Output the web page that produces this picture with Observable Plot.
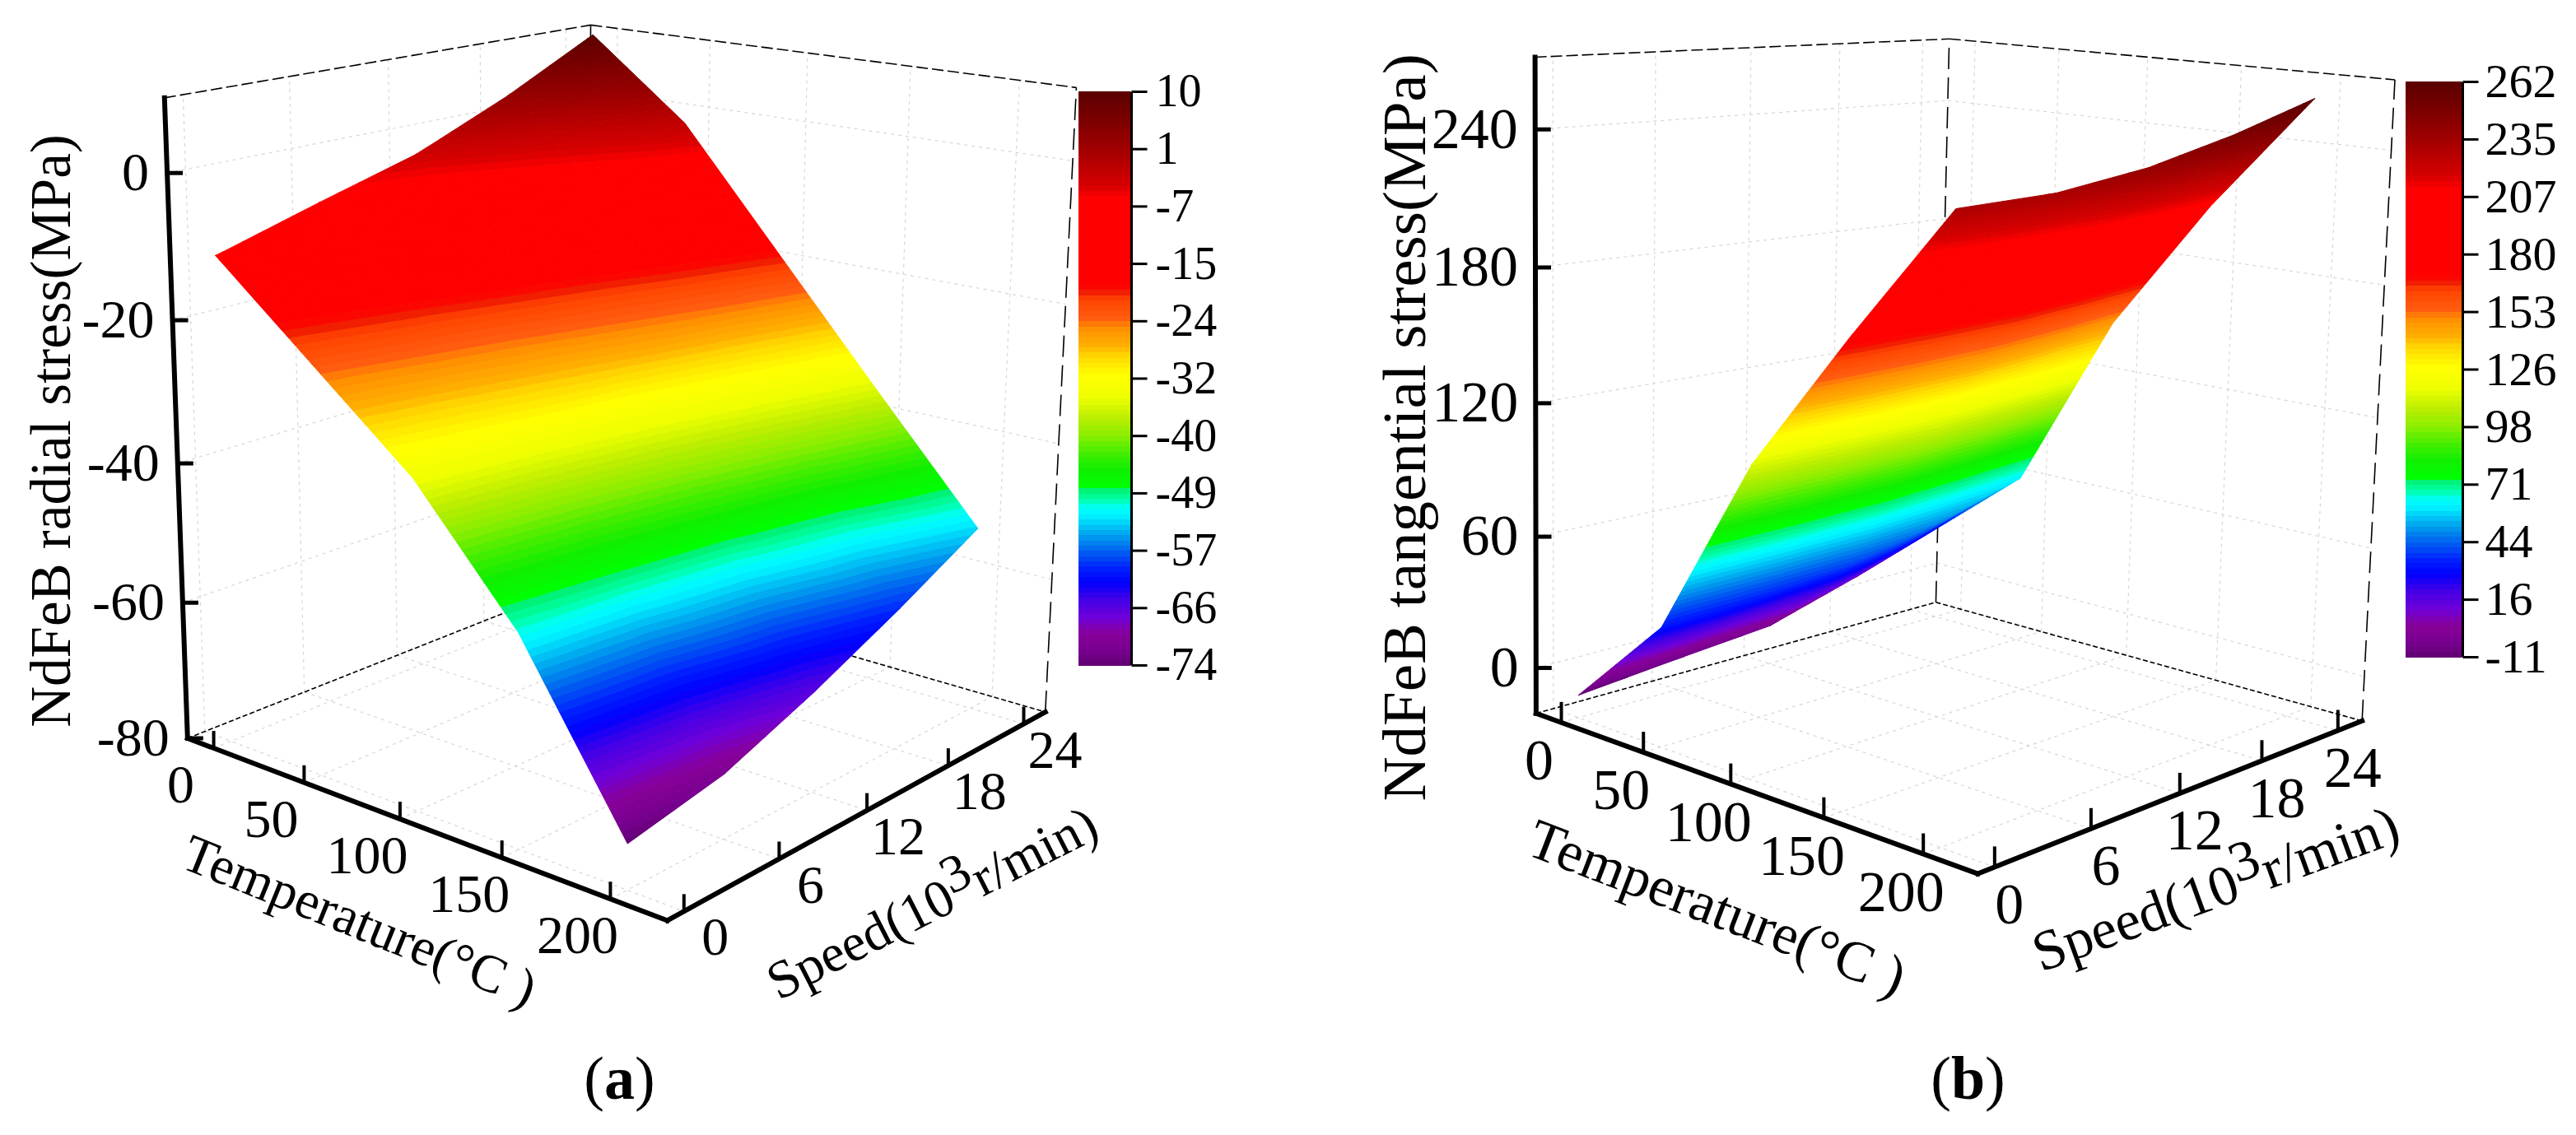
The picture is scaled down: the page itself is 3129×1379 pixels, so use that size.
<!DOCTYPE html>
<html><head><meta charset="utf-8">
<style>html,body{margin:0;padding:0;background:#fff}#fig{display:flex;width:3129px;height:1379px;overflow:hidden}#fig svg{flex:none;display:block;max-width:none}</style>
<script src="https://cdn.jsdelivr.net/npm/d3@7"></script>
<script src="https://cdn.jsdelivr.net/npm/@observablehq/plot@0.6"></script>
</head><body><div id="fig"></div>
<script>
// ---------- data ----------
const temperature = [0, 50, 100, 150, 200];
const speed = [0, 6, 12, 18, 24];
// rows: temperature, columns: speed
const radialStress = [
  [-10.9, -6.8, -2.9, 2.9, 9.7],
  [-22.6, -19.1, -14.5, -8.4, -1.6],
  [-34.3, -31.7, -28.3, -23.8, -18.8],
  [-50.7, -48.3, -45.0, -40.8, -36.0],
  [-73.8, -71.0, -65.7, -59.6, -52.9]
];
const tangentialStress = [
  [-10.6, -6.3, -2.4, 10.7, 26.0],
  [32.3, 34.8, 39.2, 49.2, 61.2],
  [113.2, 116.0, 121.1, 132.4, 146.0],
  [173.7, 176.6, 181.9, 193.6, 207.7],
  [230.8, 232.4, 238.6, 248.8, 261.4]
];
const radialTicks = [0, -20, -40, -60, -80];
const tangentialTicks = [0, 60, 120, 180, 240];
const radialBarLabels = [10, 1, -7, -15, -24, -32, -40, -49, -57, -66, -74];
const tangentialBarLabels = [262, 235, 207, 180, 153, 126, 98, 71, 44, 16, -11];
// colour map: position 0..1 along the bar, with its colour
const mapPositions = [0, .026, .055, .083, .117, .145, .169, .199, .227, .26, .274, .289, .31, .313, .342, .37, .399, .432, .467, .505, .538, .557, .59, .605, .638, .652, .662, .815, .835, .901, .968, 1];
const mapColors = ["#600070", "#780090", "#880099", "#7000d8", "#4000e8", "#0000ff", "#0020ff", "#0060f0", "#009fee", "#00eeff", "#00ffff", "#00ffaa", "#00ee66", "#00ff00", "#11ee00", "#44ee00", "#88ee00", "#bbee00", "#eeff00", "#ffff00", "#ffd800", "#ffb000", "#ff8c00", "#ff5a10", "#ff4500", "#f01800", "#ff0000", "#ff0000", "#d80000", "#a00000", "#700000", "#5a0000"];

// ---------- panels: camera and layout ----------
const panels = [
  {
    x0: 0, x1: 1564, values: radialStress, ticks: radialTicks, barLabels: radialBarLabels, min: -74, max: 10,
    camera: [417.10692, 572.15822, -47.13674, 258.2306, 61.26119, -74.25632, -924.22813, 211.74515, -0.12012, 0.15431, -0.0709],
    T: [-15, 225], S: [-1, 25.8], Z: [-80, 10],
    bar: {x1: 1310, x2: 1374, tick: 1393, label: 1403, top: 111, bottom: 808, size: 56},
    tempOffset: [-40, 45], speedOffset: [38, 32], tickLen: 21, zLabelGap: 22, labelSize: 66,
    zTitle: "NdFeB radial stress(MPa)", zTitlePos: [62, 523], zTitleSize: 69,
    tempTitle: {pos: [436, 1119], rotate: 22, size: 65}, speedTitle: {pos: [1132, 1097], rotate: -27, size: 65},
    caption: "a", captionX: 752
  },
  {
    x0: 1564, x1: 3129, values: tangentialStress, ticks: tangentialTicks, barLabels: tangentialBarLabels, min: -11, max: 262,
    camera: [158.49718, 783.74993, -26.32173, 1916.95376, 34.94625, -12.0506, -275.72733, 816.08072, -0.11976, 0.14862, -0.01388],
    T: [-16, 226], S: [-1, 26], Z: [-21, 271],
    bar: {x1: 2922, x2: 2991, tick: 3010, label: 3018, top: 99, bottom: 798, size: 58},
    tempOffset: [-27, 47], speedOffset: [18, 46], tickLen: 25, zLabelGap: 21, labelSize: 70,
    zTitle: "NdFeB tangential stress(MPa)", zTitlePos: [1706, 519], zTitleSize: 75,
    tempTitle: {pos: [2085, 1103], rotate: 21, size: 69}, speedTitle: {pos: [2691, 1080], rotate: -20, size: 69},
    caption: "b", captionX: 2390
  }
];
const serif = "Liberation Serif";
const bandCount = 110;

function buildPanel(p) {
  const project = (T, S, v) => {
    const X = T / 200, Y = S / 24, Z = v / 100, m = p.camera;
    const w = m[8] * X + m[9] * Y + m[10] * Z + 1;
    return [(m[0] * X + m[1] * Y + m[2] * Z + m[3]) / w, (m[4] * X + m[5] * Y + m[6] * Z + m[7]) / w];
  };
  const seg = (a, b) => { const [x1, y1] = project(...a), [x2, y2] = project(...b); return {x1, y1, x2, y2}; };
  const [T0, T1] = p.T, [S0, S1] = p.S, [Z0, Z1] = p.Z;

  // colour bands
  const step = (p.max - p.min) / bandCount;
  const thresholds = d3.range(1, bandCount).map(i => p.min + i * step);
  const ramp = d3.scaleLinear().domain(mapPositions).range(mapColors).interpolate(d3.interpolateRgb);
  const bandColors = d3.range(bandCount).map(i => ramp((i + .5) / bandCount));
  const bands = d3.range(bandCount).map(i => ({lo: p.min + i * step, hi: p.min + (i + 1) * step, mid: p.min + (i + .5) * step}));
  const low = -1e9, high = 1e9;
  bands[0].lo = low; bands[bandCount - 1].hi = high;

  // surface: every grid triangle is cut along the colour bands
  const clip = (poly, keep, level) => {
    const out = [];
    poly.forEach((a, i) => {
      const b = poly[(i + 1) % poly.length], ka = keep(a[2]), kb = keep(b[2]);
      if (ka) out.push(a);
      if (ka !== kb) { const t = (level - a[2]) / (b[2] - a[2]); out.push([a[0] + t * (b[0] - a[0]), a[1] + t * (b[1] - a[1]), level]); }
    });
    return out;
  };
  const surface = [];
  let id = 0;
  temperature.slice(1).forEach((_, i) => speed.slice(1).forEach((_, j) => {
    const c = (a, b) => [temperature[a], speed[b], p.values[a][b]];
    const q = [c(i, j), c(i + 1, j), c(i + 1, j + 1), c(i, j + 1)];
    for (const tri of [[q[0], q[1], q[2]], [q[0], q[2], q[3]]]) for (const band of bands) {
      let poly = band.lo > low ? clip(tri, v => v >= band.lo, band.lo) : tri;
      if (poly.length && band.hi < high) poly = clip(poly, v => v <= band.hi, band.hi);
      if (poly.length < 3) continue;
      id++;
      for (const [T, S, v] of poly) { const [x, y] = project(T, S, v); surface.push({id, x, y, v: band.mid}); }
    }
  }));

  // box and grid
  const grid = [
    ...speed.map(s => seg([T0, s, Z0], [T0, s, Z1])),
    ...temperature.map(t => seg([t, S1, Z0], [t, S1, Z1])),
    ...p.ticks.filter(v => v > Z0).flatMap(v => [seg([T0, S0, v], [T0, S1, v]), seg([T0, S1, v], [T1, S1, v])]),
    ...speed.map(s => seg([T0, s, Z0], [T1, s, Z0])),
    ...temperature.map(t => seg([t, S0, Z0], [t, S1, Z0]))
  ];
  const topEdges = [seg([T0, S0, Z1], [T0, S1, Z1]), seg([T0, S1, Z1], [T1, S1, Z1])];
  const uprights = [seg([T1, S1, Z0], [T1, S1, Z1]), seg([T0, S1, Z0], [T0, S1, Z1])];
  const floorEdges = [seg([T0, S0, Z0], [T0, S1, Z0]), seg([T0, S1, Z0], [T1, S1, Z0])];
  const axes = [seg([T0, S0, Z0], [T0, S0, Z1]), seg([T0, S0, Z0], [T1, S0, Z0]), seg([T1, S0, Z0], [T1, S1, Z0])];

  const pt = (a, text) => { const [x, y] = project(...a); return {x, y, text: String(text)}; };
  const zMarks = p.ticks.map(v => pt([T0, S0, v], v));
  const tMarks = temperature.map(t => pt([t, S0, Z0], t));
  const sMarks = speed.map(s => pt([T1, s, Z0], s));
  const barStep = (p.bar.bottom - p.bar.top) / (p.barLabels.length - 1);
  const barMarks = p.barLabels.map((v, i) => ({y: p.bar.top + i * barStep, text: String(v)}));
  const barY = v => p.bar.bottom - (v - p.min) / (p.max - p.min) * (p.bar.bottom - p.bar.top);
  const barBands = d3.range(bandCount).map(i => ({lo: p.min + i * step, hi: p.min + (i + 1) * step, mid: p.min + (i + .5) * step}));
  const font = {fontFamily: serif, fill: "black"};
  const one = (x, y, text) => [{x, y, text}];

  const svg = Plot.plot({
    width: p.x1 - p.x0, height: 1379, margin: 0,
    style: {background: "white", fontFamily: serif},
    x: {domain: [p.x0, p.x1], range: [0, p.x1 - p.x0], axis: null},
    y: {domain: [0, 1379], range: [0, 1379], axis: null},
    color: {type: "threshold", domain: thresholds, range: bandColors},
    marks: [
      Plot.link(grid, {x1: "x1", y1: "y1", x2: "x2", y2: "y2", stroke: "#d6d6d6", strokeWidth: 1.2, strokeDasharray: "4,5"}),
      Plot.link(floorEdges, {x1: "x1", y1: "y1", x2: "x2", y2: "y2", stroke: "black", strokeWidth: 1.6, strokeDasharray: "6,3"}),
      Plot.link(uprights, {x1: "x1", y1: "y1", x2: "x2", y2: "y2", stroke: "black", strokeWidth: 1.6, strokeDasharray: "26,10"}),
      Plot.link(topEdges, {x1: "x1", y1: "y1", x2: "x2", y2: "y2", stroke: "black", strokeWidth: 1.6, strokeDasharray: "14,5"}),
      Plot.line(surface, {x: "x", y: "y", z: "id", fill: "v", stroke: "v", strokeWidth: 1, curve: "linear-closed"}),
      Plot.link(axes, {x1: "x1", y1: "y1", x2: "x2", y2: "y2", stroke: "black", strokeWidth: 6, strokeLinecap: "square"}),
      Plot.link(zMarks, {x1: "x", y1: "y", x2: d => d.x + 19, y2: "y", stroke: "black", strokeWidth: 5}),
      Plot.link([...tMarks, ...sMarks], {x1: "x", y1: "y", x2: "x", y2: d => d.y - p.tickLen, stroke: "black", strokeWidth: 4}),
      Plot.text(zMarks, {x: d => d.x - p.zLabelGap, y: "y", text: "text", textAnchor: "end", fontSize: p.labelSize, ...font}),
      Plot.text(tMarks, {x: "x", y: "y", dx: p.tempOffset[0], dy: p.tempOffset[1], text: "text", fontSize: p.labelSize, ...font}),
      Plot.text(sMarks, {x: "x", y: "y", dx: p.speedOffset[0], dy: p.speedOffset[1], text: "text", fontSize: p.labelSize, ...font}),
      Plot.text(one(...p.zTitlePos, p.zTitle), {x: "x", y: "y", text: "text", rotate: -90, fontSize: p.zTitleSize, ...font}),
      Plot.text(one(...p.tempTitle.pos, "Temperature(°C )"), {x: "x", y: "y", text: "text", rotate: p.tempTitle.rotate, fontSize: p.tempTitle.size, ...font}),
      Plot.text(one(...p.speedTitle.pos, "Speed(103r/min)"), {x: "x", y: "y", text: "text", rotate: p.speedTitle.rotate, fontSize: p.speedTitle.size, ...font}),
      Plot.rect(barBands, {x1: () => p.bar.x1, x2: () => p.bar.x2 - 1, y1: d => barY(d.hi), y2: d => barY(d.lo) + .6, fill: "mid", shapeRendering: "crispEdges"}),
      Plot.link(one(p.bar.x2, p.bar.top, ""), {x1: "x", x2: "x", y1: "y", y2: () => p.bar.bottom, stroke: "black", strokeWidth: 3}),
      Plot.link(barMarks, {x1: () => p.bar.x2, x2: () => p.bar.tick, y1: "y", y2: "y", stroke: "black", strokeWidth: 3}),
      Plot.text(barMarks, {x: () => p.bar.label, y: "y", text: "text", textAnchor: "start", fontSize: p.bar.size, ...font}),
      Plot.text(one(p.captionX, 1311, `(${p.caption})`), {x: "x", y: "y", text: "text", fontSize: 74, ...font})
    ]
  });

  // typographic details inside the existing text elements
  svg.querySelectorAll("text").forEach(t => {
    if (t.textContent === "Speed(103r/min)") {
      t.innerHTML = 'Speed(10<tspan dy="-0.3em">3</tspan><tspan dy="0.3em">r/min)</tspan>';
    } else if (t.textContent === `(${p.caption})`) {
      t.innerHTML = `(<tspan font-weight="bold">${p.caption}</tspan>)`;
    }
  });
  return svg;
}
const fig = document.getElementById("fig");
panels.forEach(p => fig.appendChild(buildPanel(p)));
</script></body></html>
